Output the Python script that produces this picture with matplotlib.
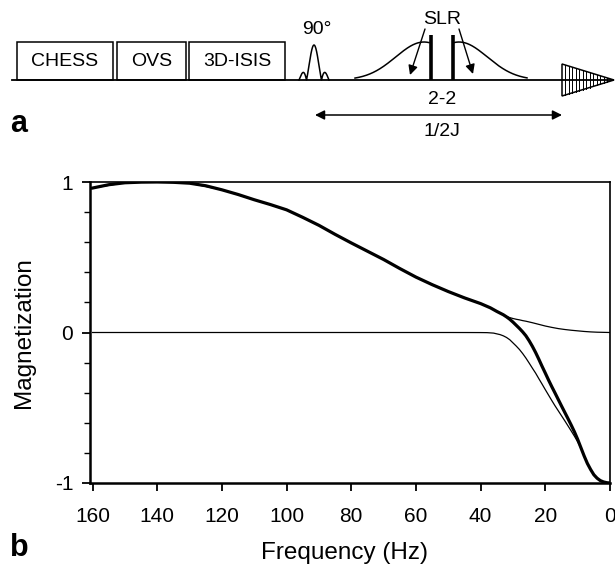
import matplotlib
matplotlib.use('Agg')
import matplotlib.pyplot as plt
import numpy as np
from matplotlib.patches import Rectangle, Polygon

plt.rcParams['font.family'] = ['Liberation Sans', 'DejaVu Sans']

# ---- data (panel b) ----
freq_thick = [160, 155, 150, 145, 140, 135, 130, 125, 120, 115, 110, 105, 100, 95, 90, 85, 80, 75,
              70, 65, 60, 55, 50, 45, 40, 37, 35, 33, 32, 31, 30, 29, 28, 27, 26, 25, 24, 23, 22, 21, 20,
              19, 18, 17, 16, 15, 14, 13, 12, 11, 10, 9, 8, 7, 6, 5, 4, 3, 2, 1, 0]
mag_thick = [0.960, 0.982, 0.995, 0.999, 1.000, 0.998, 0.992, 0.975, 0.948, 0.917, 0.882, 0.850, 0.815,
             0.765, 0.712, 0.652, 0.595, 0.540, 0.485, 0.425, 0.368, 0.318, 0.272, 0.230, 0.192, 0.164,
             0.140, 0.118, 0.104, 0.088, 0.069, 0.048, 0.027, 0.004, -0.022, -0.055, -0.092, -0.133,
             -0.178, -0.225, -0.270, -0.316, -0.360, -0.402, -0.445, -0.488, -0.530, -0.572, -0.615,
             -0.660, -0.710, -0.765, -0.820, -0.870, -0.910, -0.945, -0.968, -0.984, -0.993, -0.998, -1.000]

freq_upper = [160, 150, 140, 130, 120, 110, 100, 90, 80, 70, 60, 50, 40, 37, 35, 33, 32, 31, 30, 29,
              28, 27, 26, 24, 22, 20, 18, 16, 14, 12, 10, 8, 6, 4, 2, 0]
mag_upper = [0.960, 0.995, 1.000, 0.992, 0.948, 0.882, 0.815, 0.712, 0.595, 0.485, 0.368, 0.272,
             0.192, 0.164, 0.140, 0.118, 0.107, 0.099, 0.093, 0.088, 0.084, 0.079, 0.075, 0.065,
             0.054, 0.043, 0.034, 0.026, 0.020, 0.015, 0.011, 0.007, 0.004, 0.002, 0.001, 0.0]

freq_lower = [160, 120, 80, 50, 44, 40, 38, 36, 34, 33, 32, 31, 30, 29, 28, 27, 26, 25, 24, 23, 22,
              21, 20, 19, 18, 17, 16, 15, 14, 13, 12, 11, 10, 9, 8, 7, 6, 5, 4, 3, 2, 1, 0]
mag_lower = [0.0, 0.0, 0.0, 0.0, -0.0002, -0.0005, -0.001, -0.004, -0.014, -0.022, -0.033, -0.048,
             -0.069, -0.090, -0.113, -0.140, -0.170, -0.203, -0.237, -0.270, -0.307, -0.343, -0.380,
             -0.416, -0.452, -0.487, -0.520, -0.553, -0.586, -0.620, -0.654, -0.689, -0.726, -0.768,
             -0.818, -0.870, -0.910, -0.945, -0.968, -0.984, -0.993, -0.998, -1.000]

x_ticks = [160, 140, 120, 100, 80, 60, 40, 20, 0]
y_ticks = [-1, 0, 1]
y_minor = [-0.8, -0.6, -0.4, -0.2, 0.2, 0.4, 0.6, 0.8]

# ---- panel a schematic content ----
box_labels = ['CHESS', 'OVS', '3D-ISIS']
box_spans = [(17, 113), (117, 186), (189, 285)]

W, H = 615, 570
fig = plt.figure(figsize=(W / 100, H / 100), dpi=100)

# schematic axes in pixel coordinates
a0 = fig.add_axes([0, 0, 1, 1])
a0.set_xlim(0, W)
a0.set_ylim(H, 0)
a0.axis('off')

fs_a = 14
base = 80
a0.plot([12, 613], [base, base], color='black', lw=1.3)
for lab, (x0, x1) in zip(box_labels, box_spans):
    a0.add_patch(Rectangle((x0, 42), x1 - x0, base - 42, fill=False, ec='black', lw=1.1))
    a0.text((x0 + x1) / 2, 62, lab, ha='center', va='center', fontsize=fs_a)

# 90 degree sinc pulse
xs = np.linspace(299, 329, 300)
u = (xs - 314) / 7.5
ys = base - 35 * np.abs(np.sinc(u))
a0.plot(xs, ys, color='black', lw=1.1)
a0.text(317, 29, '90°', ha='center', va='center', fontsize=fs_a)

# SLR half-gaussians and bars
xl = np.linspace(355, 429, 200)
a0.plot(xl, base - 38 * np.exp(-((xl - 424) / 40) ** 2), color='black', lw=1.1)
xr = np.linspace(454, 527, 200)
a0.plot(xr, base - 38 * np.exp(-((xr - 459) / 40) ** 2), color='black', lw=1.1)
for xb in (431, 453):
    a0.plot([xb, xb], [35, base], color='black', lw=2.6, solid_capstyle='butt')
a0.text(442, 20, 'SLR', ha='center', va='center', fontsize=fs_a)
a0.annotate('', xy=(410, 75), xytext=(425, 29),
            arrowprops=dict(arrowstyle='-|>', color='black', lw=1.0, mutation_scale=14, shrinkA=0, shrinkB=0))
a0.annotate('', xy=(473, 74), xytext=(459, 29),
            arrowprops=dict(arrowstyle='-|>', color='black', lw=1.0, mutation_scale=14, shrinkA=0, shrinkB=0))

# FID
a0.add_patch(Polygon([(562, 64), (562, 96), (614, base)], closed=True, fill=True, fc='white', ec='black', lw=1.1))
for xh in np.arange(565, 608, 3.5):
    hh = 16 * (614 - xh) / 52
    a0.plot([xh, xh], [base - hh, base + hh], color='black', lw=0.7)

a0.text(442, 99, '2-2', ha='center', va='center', fontsize=fs_a)
a0.annotate('', xy=(315, 115), xytext=(562, 115),
            arrowprops=dict(arrowstyle='<|-|>', color='black', lw=1.1, mutation_scale=14, shrinkA=0, shrinkB=0))
a0.text(442, 131, '1/2J', ha='center', va='center', fontsize=fs_a)
a0.text(19, 124, 'a', ha='center', va='center', fontsize=22, fontweight='bold')
a0.text(19, 548, 'b', ha='center', va='center', fontsize=22, fontweight='bold')

# ---- panel b ----
ax = fig.add_axes([90 / W, 1 - 483 / H, 520 / W, 301 / H])
ax.plot(freq_upper, mag_upper, color='black', lw=0.9)
ax.plot(freq_lower, mag_lower, color='black', lw=0.9)
ax.plot(freq_thick, mag_thick, color='black', lw=2.3)
ax.set_xlim(160.8, 0)
ax.set_ylim(-1, 1)
ax.set_xticks(x_ticks)
ax.set_xticklabels([str(v) for v in x_ticks])
ax.set_yticks(y_ticks)
ax.set_yticklabels([str(v) for v in y_ticks])
ax.set_yticks(y_minor, minor=True)
ax.tick_params(axis='both', which='major', direction='out', length=6, width=1.3, labelsize=15)
ax.tick_params(axis='x', which='major', pad=11)
ax.tick_params(axis='y', which='major', pad=6)
ax.tick_params(axis='y', which='minor', direction='out', length=4.5, width=1.0)
ax.tick_params(top=False, right=False)
for s in ('left', 'bottom'):
    ax.spines[s].set_linewidth(1.8)
for s in ('top', 'right'):
    ax.spines[s].set_linewidth(1.2)
ax.set_xlabel('Frequency (Hz)', fontsize=17.5)
ax.set_ylabel('Magnetization', fontsize=17.5)
ax.xaxis.set_label_coords(0.49, (483 - 542) / 301)
ax.yaxis.set_label_coords((35 - 90) / 520, 0.5)

fig.savefig('out.png', dpi=100)
